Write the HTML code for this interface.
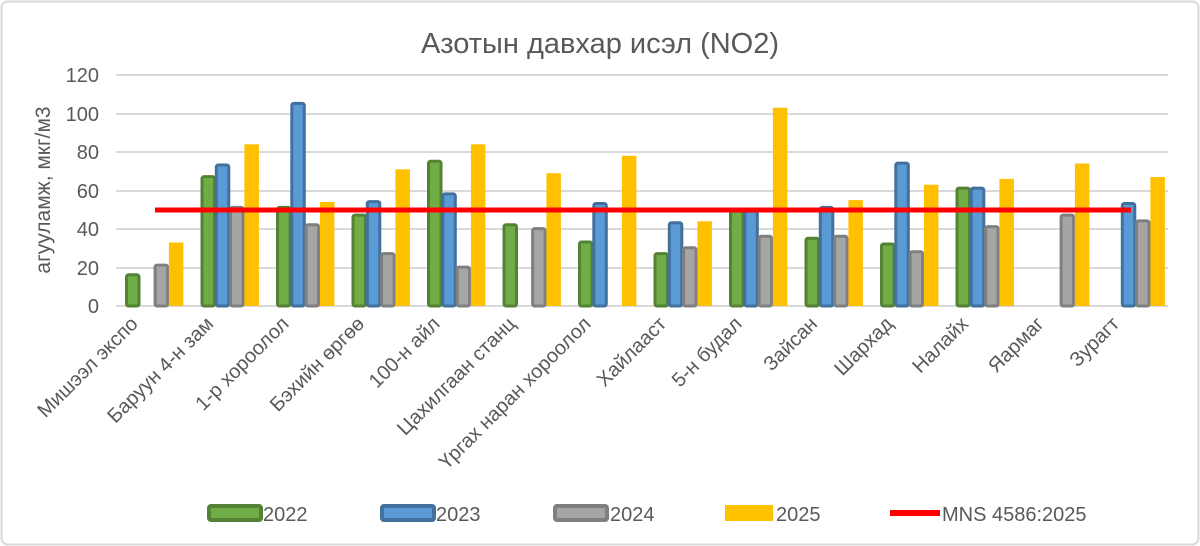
<!DOCTYPE html>
<html><head><meta charset="utf-8"><style>
html,body{margin:0;padding:0;background:#fff;}
svg{display:block;font-family:"Liberation Sans",sans-serif;}
.g{fill:#70ad47;stroke:#548235;stroke-width:3}
.b{fill:#5b9bd5;stroke:#41719c;stroke-width:3}
.r{fill:#a5a5a5;stroke:#7f7f7f;stroke-width:3}
.y{fill:#ffc000}
</style></head><body>
<svg width="1200" height="546" viewBox="0 0 1200 546" xmlns="http://www.w3.org/2000/svg">
<rect x="1.5" y="1.5" width="1197" height="543" rx="6" fill="#fff" stroke="#d9d9d9" stroke-width="2"/>
<text x="600" y="53" font-size="29" fill="#595959" text-anchor="middle">Азотын давхар исэл (NO2)</text>
<g stroke="#d9d9d9" stroke-width="2">
<line x1="116" x2="1168" y1="75" y2="75"/><line x1="116" x2="1168" y1="114" y2="114"/>
<line x1="116" x2="1168" y1="152" y2="152"/><line x1="116" x2="1168" y1="191" y2="191"/>
<line x1="116" x2="1168" y1="229" y2="229"/><line x1="116" x2="1168" y1="268" y2="268"/>
<line x1="116" x2="1168" y1="306" y2="306"/>
</g>
<g font-size="20" fill="#595959" text-anchor="end">
<text x="99" y="82">120</text><text x="99" y="121">100</text><text x="99" y="159">80</text>
<text x="99" y="198">60</text><text x="99" y="236">40</text><text x="99" y="275">20</text><text x="99" y="313">0</text>
</g>
<text transform="translate(50,190) rotate(-90)" font-size="21" fill="#595959" text-anchor="middle">агууламж, мкг/м3</text>

<g transform="translate(125,0)">
<rect class="g" x="1.5" y="274.8" width="12.5" height="31.2" rx="2"/>
<rect class="r" x="30.1" y="265.1" width="12.5" height="40.9" rx="2"/>
<rect class="y" x="43.9" y="242.5" width="14.5" height="63.5"/>
</g>
<g transform="translate(200.5,0)">
<rect class="g" x="1.5" y="176.6" width="12.5" height="129.4" rx="2"/>
<rect class="b" x="15.8" y="165" width="12.5" height="141" rx="2"/>
<rect class="r" x="30.1" y="207.4" width="12.5" height="98.6" rx="2"/>
<rect class="y" x="43.9" y="144.3" width="14.5" height="161.7"/>
</g>
<g transform="translate(276,0)">
<rect class="g" x="1.5" y="207.4" width="12.5" height="98.6" rx="2"/>
<rect class="b" x="15.8" y="103.4" width="12.5" height="202.6" rx="2"/>
<rect class="r" x="30.1" y="224.7" width="12.5" height="81.3" rx="2"/>
<rect class="y" x="43.9" y="202" width="14.5" height="104"/>
</g>
<g transform="translate(351.5,0)">
<rect class="g" x="1.5" y="215.1" width="12.5" height="90.9" rx="2"/>
<rect class="b" x="15.8" y="201.6" width="12.5" height="104.4" rx="2"/>
<rect class="r" x="30.1" y="253.6" width="12.5" height="52.4" rx="2"/>
<rect class="y" x="43.9" y="169.3" width="14.5" height="136.7"/>
</g>
<g transform="translate(427,0)">
<rect class="g" x="1.5" y="161.2" width="12.5" height="144.8" rx="2"/>
<rect class="b" x="15.8" y="193.9" width="12.5" height="112.1" rx="2"/>
<rect class="r" x="30.1" y="267.1" width="12.5" height="38.9" rx="2"/>
<rect class="y" x="43.9" y="144.3" width="14.5" height="161.7"/>
</g>
<g transform="translate(502.5,0)">
<rect class="g" x="1.5" y="224.7" width="12.5" height="81.3" rx="2"/>
<rect class="r" x="30.1" y="228.6" width="12.5" height="77.4" rx="2"/>
<rect class="y" x="43.9" y="173.2" width="14.5" height="132.8"/>
</g>
<g transform="translate(578,0)">
<rect class="g" x="1.5" y="242" width="12.5" height="64" rx="2"/>
<rect class="b" x="15.8" y="203.5" width="12.5" height="102.5" rx="2"/>
<rect class="y" x="43.9" y="155.8" width="14.5" height="150.2"/>
</g>
<g transform="translate(653.5,0)">
<rect class="g" x="1.5" y="253.6" width="12.5" height="52.4" rx="2"/>
<rect class="b" x="15.8" y="222.8" width="12.5" height="83.2" rx="2"/>
<rect class="r" x="30.1" y="247.8" width="12.5" height="58.2" rx="2"/>
<rect class="y" x="43.9" y="221.3" width="14.5" height="84.7"/>
</g>
<g transform="translate(729,0)">
<rect class="g" x="1.5" y="211.2" width="12.5" height="94.8" rx="2"/>
<rect class="b" x="15.8" y="211.2" width="12.5" height="94.8" rx="2"/>
<rect class="r" x="30.1" y="236.3" width="12.5" height="69.7" rx="2"/>
<rect class="y" x="43.9" y="107.7" width="14.5" height="198.3"/>
</g>
<g transform="translate(804.5,0)">
<rect class="g" x="1.5" y="238.2" width="12.5" height="67.8" rx="2"/>
<rect class="b" x="15.8" y="207.4" width="12.5" height="98.6" rx="2"/>
<rect class="r" x="30.1" y="236.3" width="12.5" height="69.7" rx="2"/>
<rect class="y" x="43.9" y="200.1" width="14.5" height="105.9"/>
</g>
<g transform="translate(880,0)">
<rect class="g" x="1.5" y="244" width="12.5" height="62" rx="2"/>
<rect class="b" x="15.8" y="163.1" width="12.5" height="142.9" rx="2"/>
<rect class="r" x="30.1" y="251.7" width="12.5" height="54.3" rx="2"/>
<rect class="y" x="43.9" y="184.7" width="14.5" height="121.3"/>
</g>
<g transform="translate(955.5,0)">
<rect class="g" x="1.5" y="188.1" width="12.5" height="117.9" rx="2"/>
<rect class="b" x="15.8" y="188.1" width="12.5" height="117.9" rx="2"/>
<rect class="r" x="30.1" y="226.6" width="12.5" height="79.4" rx="2"/>
<rect class="y" x="43.9" y="178.9" width="14.5" height="127.1"/>
</g>
<g transform="translate(1031,0)">
<rect class="r" x="30.1" y="215.1" width="12.5" height="90.9" rx="2"/>
<rect class="y" x="43.9" y="163.5" width="14.5" height="142.5"/>
</g>
<g transform="translate(1106.5,0)">
<rect class="b" x="15.8" y="203.5" width="12.5" height="102.5" rx="2"/>
<rect class="r" x="30.1" y="220.9" width="12.5" height="85.1" rx="2"/>
<rect class="y" x="43.9" y="177" width="14.5" height="129"/>
</g>

<line x1="155" x2="1131" y1="210" y2="210" stroke="#ff0000" stroke-width="5"/>

<g font-size="20" fill="#595959" text-anchor="end">
<text transform="translate(139,325) rotate(-45)">Мишээл экспо</text>
<text transform="translate(214.5,325) rotate(-45)">Баруун 4-н зам</text>
<text transform="translate(290,325) rotate(-45)">1-р хороолол</text>
<text transform="translate(365.5,325) rotate(-45)">Бэхийн өргөө</text>
<text transform="translate(441,325) rotate(-45)">100-н айл</text>
<text transform="translate(516.5,325) rotate(-45)">Цахилгаан станц</text>
<text transform="translate(592,325) rotate(-45)">Үргах наран хороолол</text>
<text transform="translate(667.5,325) rotate(-45)">Хайлааст</text>
<text transform="translate(743,325) rotate(-45)">5-н будал</text>
<text transform="translate(818.5,325) rotate(-45)">Зайсан</text>
<text transform="translate(894,325) rotate(-45)">Шархад</text>
<text transform="translate(969.5,325) rotate(-45)">Налайх</text>
<text transform="translate(1045,325) rotate(-45)">Яармаг</text>
<text transform="translate(1120.5,325) rotate(-45)">Зурагт</text>
</g>

<g font-size="20" fill="#595959">
<rect x="209" y="506" width="52" height="14" rx="2" fill="#70ad47" stroke="#548235" stroke-width="4"/>
<text x="263" y="521">2022</text>
<rect x="382" y="506" width="52" height="14" rx="2" fill="#5b9bd5" stroke="#41719c" stroke-width="4"/>
<text x="436" y="521">2023</text>
<rect x="555" y="506" width="52" height="14" rx="2" fill="#a5a5a5" stroke="#7f7f7f" stroke-width="4"/>
<text x="610" y="521">2024</text>
<rect x="725" y="505" width="48" height="16" fill="#ffc000"/>
<text x="776" y="521">2025</text>
<rect x="890" y="510" width="50" height="6" fill="#ff0000"/>
<text x="942" y="521">MNS 4586:2025</text>
</g>
</svg>
</body></html>
